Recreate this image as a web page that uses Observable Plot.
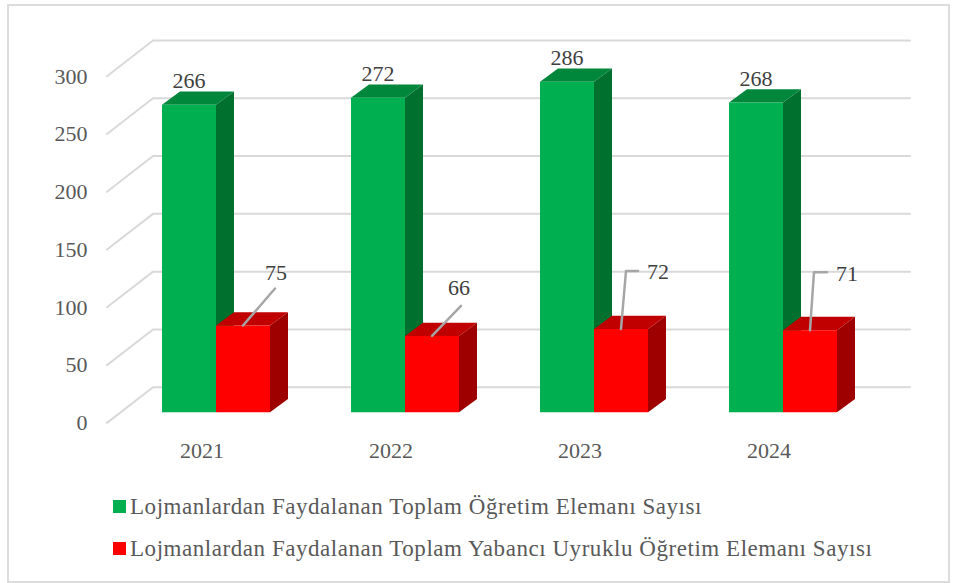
<!DOCTYPE html>
<html>
<head>
<meta charset="utf-8">
<script src="https://cdn.jsdelivr.net/npm/d3@7"></script>
<script src="https://cdn.jsdelivr.net/npm/@observablehq/plot@0.6"></script>
<style>
  html, body { margin: 0; padding: 0; background: #fff; }
  #frame { position: absolute; left: 7px; top: 4px; width: 939px; height: 575px; border: 2px solid #dcdcdc; }
  #chart { position: absolute; left: 0; top: 0; }
  #chart svg { display: block; }
  .lg { position: absolute; left: 113px; font: 23px "Liberation Serif", serif; color: #595959; white-space: nowrap; line-height: 24px; letter-spacing: 0.55px; }
  .lg i { position: absolute; left: 0; top: 5px; width: 13px; height: 13px; }
  .lg span { position: absolute; left: 17px; top: 0; }
</style>
</head>
<body>
<div id="frame"></div>
<div id="chart"></div>
<div class="lg" style="top:495px"><i style="background:#00B050"></i><span id="l0"></span></div>
<div class="lg" style="top:537px"><i style="background:#FF0000"></i><span id="l1"></span></div>
<script>
const years = ["2021", "2022", "2023", "2024"];
const totalStaff = [266, 272, 286, 268];
const foreignStaff = [75, 66, 72, 71];
const yTicks = [0, 50, 100, 150, 200, 250, 300];
const seriesNames = [
  "Lojmanlardan Faydalanan Toplam Öğretim Elemanı Sayısı",
  "Lojmanlardan Faydalanan Toplam Yabancı Uyruklu Öğretim Elemanı Sayısı"
];

document.getElementById("l0").textContent = seriesNames[0];
document.getElementById("l1").textContent = seriesNames[1];

// Scale ratios: one slot = 189px, one value unit = 1.1556px.
const pxX = p => p / 189;
const pxY = p => p / 1.1556;
const barW = pxX(54);
const depthX = pxX(18), depthY = pxY(13.3);

// Bars as three faces (side, top, front), built from the values.
function faces(values, offset, cFront, cTop, cSide, tag) {
  const out = [];
  values.forEach((v, i) => {
    const x0 = i + offset, x1 = x0 + barW;
    const add = (face, color, pts) => pts.forEach(([x, y]) => out.push({x, y, id: `${tag}${i}${face}`, color}));
    add("s", cSide, [[x1, 0], [x1 + depthX, depthY], [x1 + depthX, v + depthY], [x1, v]]);
    add("t", cTop, [[x0, v], [x1, v], [x1 + depthX, v + depthY], [x0 + depthX, v + depthY]]);
    add("f", cFront, [[x0, 0], [x1, 0], [x1, v], [x0, v]]);
  });
  return out;
}
const polys = [
  ...faces(totalStaff, 0, "#00B050", "#00873C", "#00702F", "a"),
  ...faces(foreignStaff, barW, "#FF0000", "#C00000", "#9E0000", "b")
];

// Gridlines: side wall diagonal, then along the back wall.
const grid = yTicks.flatMap(v => [
  {x: pxX(-55), y: v - pxY(10.7), v},
  {x: pxX(-9), y: v + pxY(25), v},
  {x: pxX(748), y: v + pxY(25), v}
]);

// Leader shapes for the red labels, in pixels relative to the bar-top centre.
const leaderShapes = [
  [[0, 0], [32, 37]],
  [[0, 0], [29, 30]],
  [[0, 0], [5, 58], [17, 58]],
  [[0, 0], [4, 58], [17, 58]]
];
const labelShift = [[33, 53], [27, 48], [37, 57], [37, 56]];
const redCx = i => i + barW * 1.5;
const leaders = foreignStaff.flatMap((v, i) =>
  leaderShapes[i].map(([dx, dy]) => ({x: redCx(i) + pxX(dx), y: v + pxY(dy), i})));

const plot = Plot.plot({
  width: 956,
  height: 490,
  marginLeft: 87,
  x: {axis: null, domain: [0, 3], range: [161.5, 728.5]},
  y: {domain: [0, 300], range: [411.7, 65]},
  style: {fontFamily: '"Liberation Serif", serif', background: "transparent"},
  marks: [
    Plot.line(grid, {x: "x", y: "y", z: "v", stroke: "#d9d9d9", strokeWidth: 2}),
    Plot.line(polys, {x: "x", y: "y", z: "id", fill: "color", stroke: "none"}),
    Plot.line(leaders, {x: "x", y: "y", z: "i", stroke: "#a6a6a6", strokeWidth: 2.5}),
    Plot.axisY({ticks: yTicks, anchor: "left", tickSize: 0, tickPadding: 0, dy: 11, fontSize: 22, color: "#595959", label: null}),
    Plot.text(years, {x: (d, i) => i + pxX(40), y: () => pxY(-38.5), text: d => d, fontSize: 22, fill: "#595959"}),
    Plot.text(totalStaff, {x: (d, i) => i + barW / 2, y: d => d, dy: -23.5, text: d => String(d), fontSize: 22, fill: "#404040"}),
    Plot.text(foreignStaff, {
      x: (d, i) => redCx(i) + pxX(labelShift[i][0]),
      y: (d, i) => d + pxY(labelShift[i][1]),
      text: d => String(d), fontSize: 22, fill: "#404040"
    })
  ]
});
document.getElementById("chart").appendChild(plot);
</script>
</body>
</html>
